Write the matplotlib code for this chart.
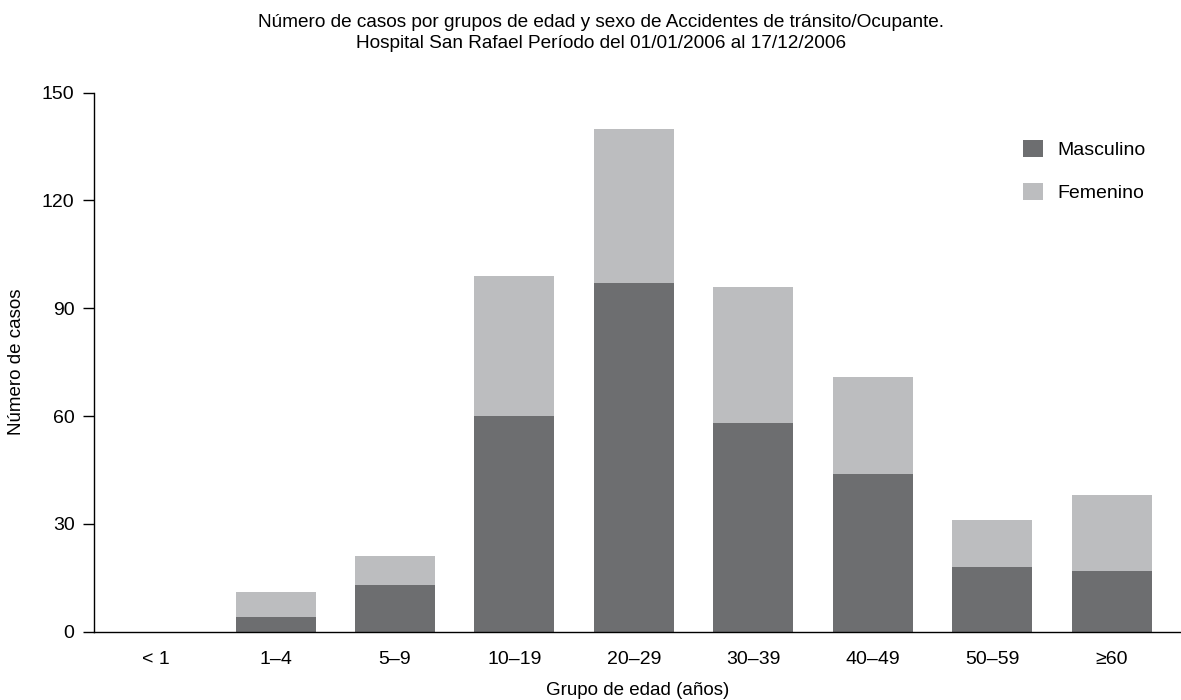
import matplotlib
matplotlib.use('Agg')
import matplotlib.pyplot as plt
import numpy as np

# Data
grupos = ['< 1', '1–4', '5–9', '10–19', '20–29', '30–39', '40–49', '50–59', '≥60']
masculino = [0, 4, 13, 60, 97, 58, 44, 18, 17]
femenino = [0, 7, 8, 39, 43, 38, 27, 13, 21]

plt.rcParams['font.family'] = ['Liberation Sans', 'DejaVu Sans']

fig = plt.figure(figsize=(11.81, 7.0), dpi=100)
ax = fig.add_axes([0.0796, 0.0977, 0.9204, 0.7699])

x = np.arange(len(grupos))
ax.bar(x, masculino, width=0.67, color='#6d6e70', label='Masculino')
ax.bar(x, femenino, width=0.67, bottom=masculino, color='#bcbdbf', label='Femenino')

ax.set_xlim(-0.52, 8.58)
ax.set_ylim(0, 150)
ax.set_yticks([0, 30, 60, 90, 120, 150])
ax.set_xticks(x)
ax.set_xticklabels(grupos)
ax.tick_params(axis='x', length=0, pad=14, labelsize=14)
ax.tick_params(axis='y', length=8, width=1, pad=6, labelsize=14)

for s in ['top', 'right']:
    ax.spines[s].set_visible(False)
ax.spines['left'].set_linewidth(1)
ax.spines['bottom'].set_linewidth(1)

ax.set_ylabel('Número de casos', fontsize=13.5, labelpad=12)
ax.set_xlabel('Grupo de edad (años)', fontsize=13.5, labelpad=10)

fig.text(0.509, 0.98, 'Número de casos por grupos de edad y sexo de Accidentes de tránsito/Ocupante.\n'
         'Hospital San Rafael Período del 01/01/2006 al 17/12/2006',
         ha='center', va='top', fontsize=13.7, linespacing=1.3)

ax.legend(loc='upper left', bbox_to_anchor=(0.839, 0.945), frameon=False,
          handlelength=1.0, handleheight=1.0, handletextpad=0.75,
          labelspacing=1.2, fontsize=14)

fig.savefig('out.png', dpi=100)
